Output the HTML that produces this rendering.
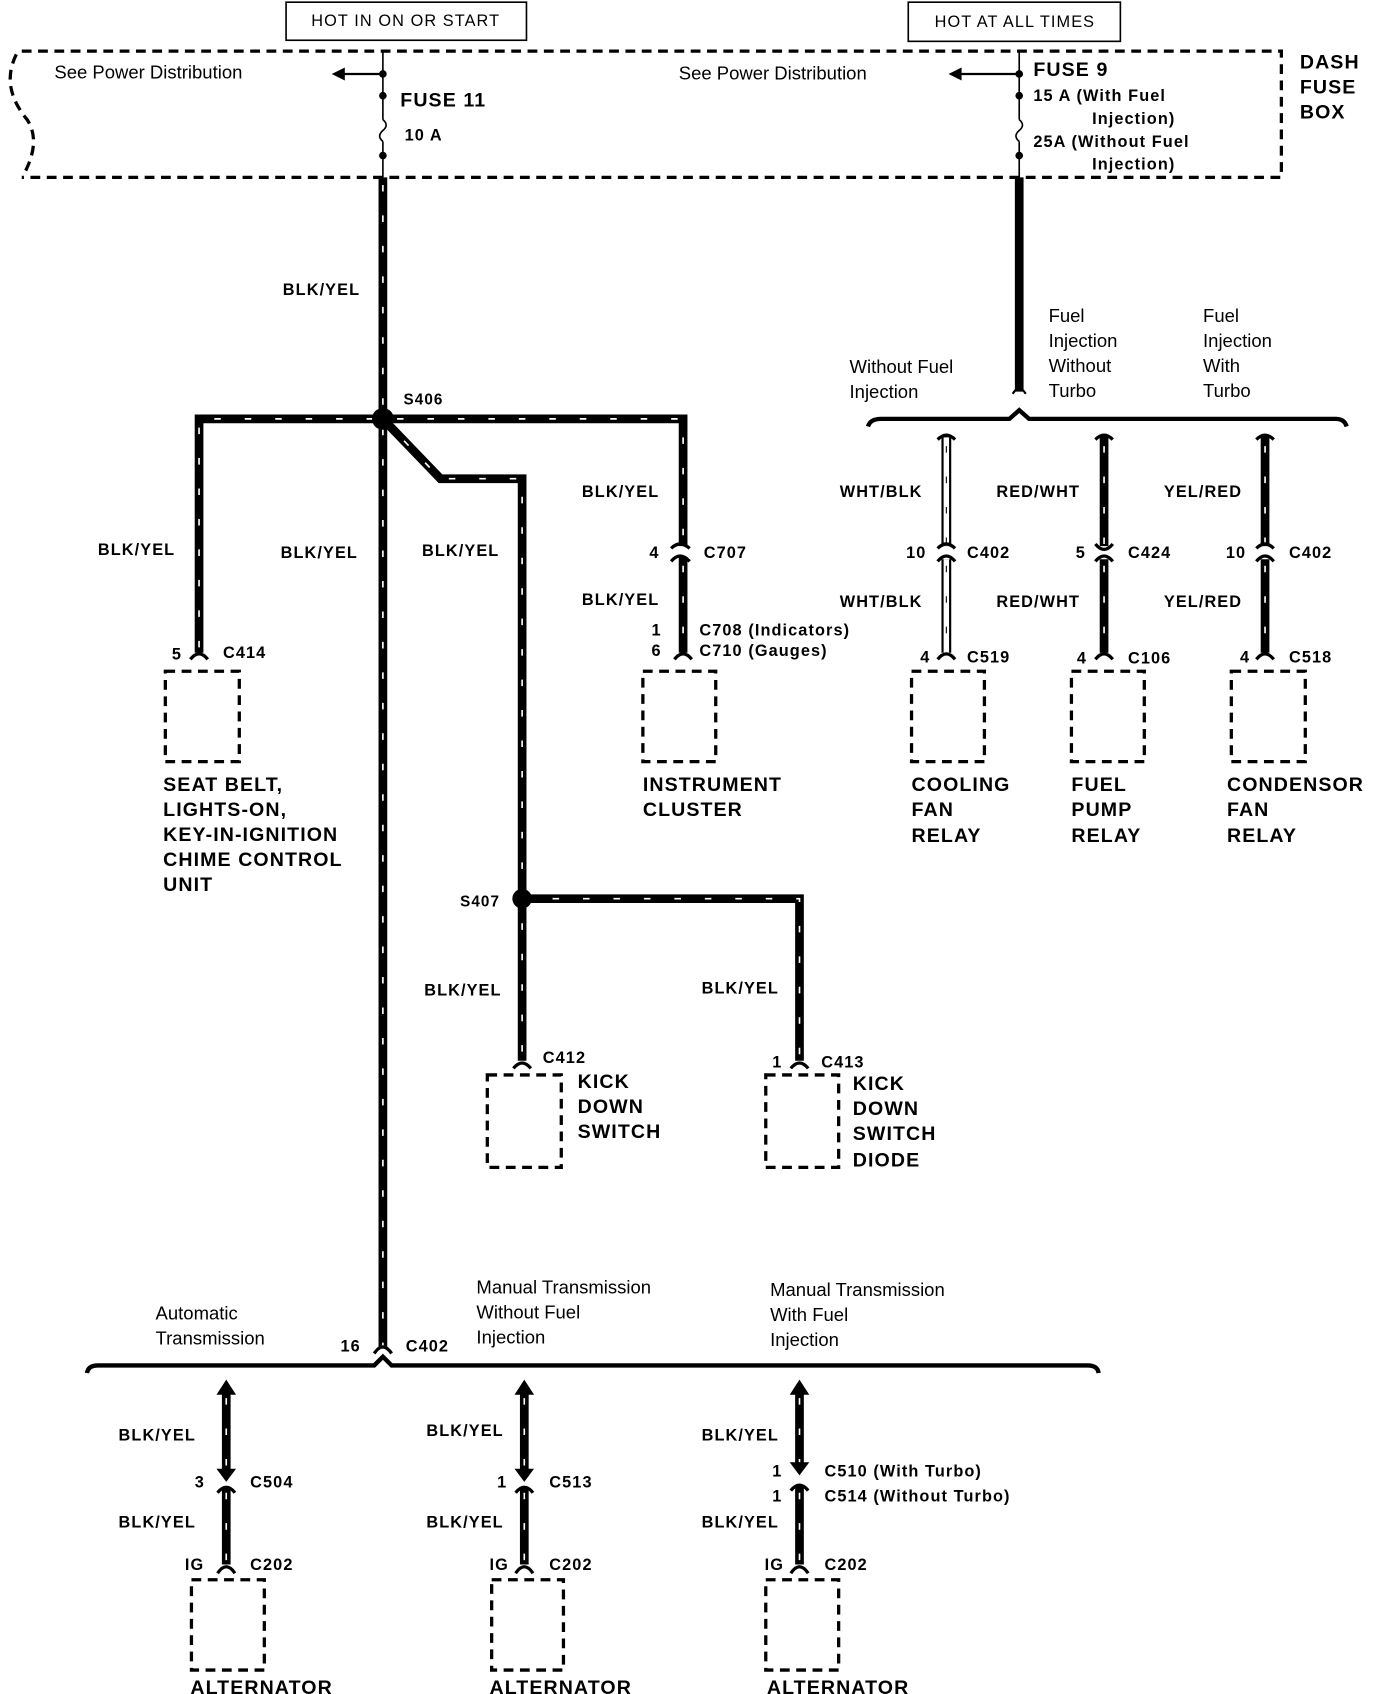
<!DOCTYPE html>
<html><head><meta charset="utf-8"><style>
html,body{margin:0;padding:0;background:#fff}
svg{display:block}
text{font-family:"Liberation Sans",Arial,sans-serif;fill:#000}
.b{font-weight:bold;font-size:15px;letter-spacing:1px}
.n{font-size:17px}
.L{font-weight:bold;font-size:18px;letter-spacing:1px}
.w{stroke:#000;stroke-width:8;fill:none}
.t{stroke:#fff;stroke-width:1.5;fill:none;stroke-dasharray:6 22}
.d{stroke:#000;stroke-width:3;fill:none;stroke-dasharray:9 6}
.th{stroke:#000;stroke-width:1.5;fill:none}
.c{stroke:#000;stroke-width:3;fill:none}
</style></head><body>
<svg width="1376" height="1694" viewBox="0 0 1265 1557" preserveAspectRatio="none" xmlns="http://www.w3.org/2000/svg">
<rect x="263" y="2" width="221" height="35" class="th"/>
<text x="373" y="24" text-anchor="middle" style="font-size:15px;letter-spacing:1px">HOT IN ON OR START</text>
<rect x="835" y="2" width="195" height="36" class="th"/>
<text x="933" y="25" text-anchor="middle" style="font-size:15px;letter-spacing:1px">HOT AT ALL TIMES</text>
<path d="M20 47 H1178 V163 H20" class="d"/>
<path d="M15 50 Q0 80 25 110 Q38 130 22 160" class="d"/>
<text x="1195" y="63" class="L">DASH</text>
<text x="1195" y="86" class="L">FUSE</text>
<text x="1195" y="109" class="L">BOX</text>
<line x1="352" y1="47" x2="352" y2="110" class="th"/>
<path d="M352 110 q6 5 0 10 q-6 5 0 10" class="th"/>
<line x1="352" y1="130" x2="352" y2="163" class="th"/>
<circle cx="352" cy="68" r="3.5"/><circle cx="352" cy="88" r="3.5"/><circle cx="352" cy="143" r="3.5"/>
<line x1="352" y1="68" x2="315" y2="68" stroke="#000" stroke-width="2"/>
<path d="M305 68 L317 62 L317 74 Z"/>
<text x="50" y="72" class="n">See Power Distribution</text>
<text x="368" y="98" class="L">FUSE 11</text>
<text x="372" y="129" class="b">10 A</text>
<line x1="937" y1="47" x2="937" y2="110" class="th"/>
<path d="M937 110 q6 5 0 10 q-6 5 0 10" class="th"/>
<line x1="937" y1="130" x2="937" y2="163" class="th"/>
<circle cx="937" cy="68" r="3.5"/><circle cx="937" cy="88" r="3.5"/><circle cx="937" cy="143" r="3.5"/>
<line x1="937" y1="68" x2="882" y2="68" stroke="#000" stroke-width="2"/>
<path d="M872 68 L884 62 L884 74 Z"/>
<text x="624" y="73" class="n">See Power Distribution</text>
<text x="950" y="70" class="L">FUSE 9</text>
<text x="950" y="93" class="b">15 A (With Fuel</text>
<text x="1004" y="114" class="b">Injection)</text>
<text x="950" y="135" class="b">25A (Without  Fuel</text>
<text x="1004" y="156" class="b">Injection)</text>

<path d="M352 163 V1238" class="w"/><path d="M352 170 V1238" class="t"/>
<text x="260" y="271" class="b">BLK/YEL</text>
<path d="M183 600 V385 H628 V502" class="w"/><path d="M183 595 V385 H628 V500" class="t"/>
<path d="M352 385 L405 440 H480 V975" class="w"/><path d="M352 385 L405 440 H480 V975" class="t"/>
<circle cx="352" cy="385" r="10"/>
<text x="371" y="372" class="b" style="font-size:14px">S406</text>
<text x="90" y="510" class="b">BLK/YEL</text>
<text x="258" y="513" class="b">BLK/YEL</text>
<text x="388" y="511" class="b">BLK/YEL</text>
<path d="M617 504 Q625 496 634 504" class="c"/>
<path d="M628 512 V600" class="w"/><path d="M628 520 V600" class="t"/>
<path d="M617 516 Q625 506 634 516" class="c"/>
<text x="535" y="457" class="b">BLK/YEL</text>
<text x="535" y="556" class="b">BLK/YEL</text>
<text x="597" y="513" class="b">4</text><text x="647" y="513" class="b">C707</text>
<text x="599" y="584" class="b">1</text><text x="643" y="584" class="b">C708 (Indicators)</text>
<text x="599" y="603" class="b">6</text><text x="643" y="603" class="b">C710  (Gauges)</text>
<path d="M620 606 Q628 596 636 606" class="c"/>
<path d="M175 606 Q183 596 191 606" class="c"/>
<text x="158" y="606" class="b">5</text><text x="205" y="605" class="b">C414</text>
<rect x="152" y="617" width="68" height="83" class="d"/>
<rect x="591" y="617" width="67" height="83" class="d"/>
<rect x="838" y="617" width="67" height="83" class="d"/>
<rect x="985" y="617" width="67" height="83" class="d"/>
<rect x="1132" y="617" width="68" height="83" class="d"/>
<text x="150" y="727" class="L">SEAT BELT,</text>
<text x="150" y="750" class="L">LIGHTS-ON,</text>
<text x="150" y="773" class="L">KEY-IN-IGNITION</text>
<text x="150" y="796" class="L">CHIME CONTROL</text>
<text x="150" y="819" class="L">UNIT</text>
<text x="591" y="727" class="L">INSTRUMENT</text>
<text x="591" y="750" class="L">CLUSTER</text>
<text x="838" y="727" class="L">COOLING</text><text x="838" y="750" class="L">FAN</text><text x="838" y="774" class="L">RELAY</text>
<text x="985" y="727" class="L">FUEL</text><text x="985" y="750" class="L">PUMP</text><text x="985" y="774" class="L">RELAY</text>
<text x="1128" y="727" class="L">CONDENSOR</text><text x="1128" y="750" class="L">FAN</text><text x="1128" y="774" class="L">RELAY</text>

<path d="M937 163 V360" class="w"/>
<path d="M931 362 Q937 352 943 362" class="c" style="stroke-width:2"/>
<path d="M798 392 Q800 385 810 385 H928 L937 377 L946 385 H1228 Q1236 385 1238 392" stroke="#000" stroke-width="4" fill="none"/>
<text x="781" y="343" class="n">Without Fuel</text><text x="781" y="366" class="n">Injection</text>
<text x="964" y="296" class="n">Fuel</text><text x="964" y="319" class="n">Injection</text><text x="964" y="342" class="n">Without</text><text x="964" y="365" class="n">Turbo</text>
<text x="1106" y="296" class="n">Fuel</text><text x="1106" y="319" class="n">Injection</text><text x="1106" y="342" class="n">With</text><text x="1106" y="365" class="n">Turbo</text>
<path d="M870 400 V502 M870 514 V600" stroke="#000" stroke-width="9" fill="none"/>
<path d="M870 402 V502 M870 514 V600" stroke="#fff" stroke-width="5" fill="none"/>
<path d="M870 410 V500 M870 520 V598" stroke="#000" stroke-width="1" stroke-dasharray="6 22" fill="none"/>
<path d="M1015 400 V502 M1015 514 V600" class="w"/><path d="M1015 410 V500 M1015 520 V600" class="t"/>
<path d="M1163 400 V502 M1163 514 V600" class="w"/><path d="M1163 410 V500 M1163 520 V600" class="t"/>
<path d="M862 404 Q870 396 878 404 M1007 404 Q1015 396 1023 404 M1155 404 Q1163 396 1171 404" class="c"/>
<path d="M862 504 Q870 496 878 504 M862 516 Q870 506 878 516" class="c"/>
<path d="M1007 500 Q1015 510 1023 500 M1007 516 Q1015 506 1023 516" class="c"/>
<path d="M1155 504 Q1163 496 1171 504 M1155 516 Q1163 506 1171 516" class="c"/>
<path d="M862 606 Q870 596 878 606 M1007 606 Q1015 596 1023 606 M1155 606 Q1163 596 1171 606" class="c"/>
<text x="772" y="457" class="b">WHT/BLK</text><text x="772" y="558" class="b">WHT/BLK</text>
<text x="916" y="457" class="b">RED/WHT</text><text x="916" y="558" class="b">RED/WHT</text>
<text x="1070" y="457" class="b">YEL/RED</text><text x="1070" y="558" class="b">YEL/RED</text>
<text x="833" y="513" class="b">10</text><text x="889" y="513" class="b">C402</text>
<text x="989" y="513" class="b">5</text><text x="1037" y="513" class="b">C424</text>
<text x="1127" y="513" class="b">10</text><text x="1185" y="513" class="b">C402</text>
<text x="846" y="609" class="b">4</text><text x="889" y="609" class="b">C519</text>
<text x="990" y="610" class="b">4</text><text x="1037" y="610" class="b">C106</text>
<text x="1140" y="609" class="b">4</text><text x="1185" y="609" class="b">C518</text>

<path d="M480 826 H735 V975" class="w"/><path d="M480 826 H735 V975" class="t"/>
<circle cx="480" cy="826" r="9"/>
<text x="423" y="833" class="b" style="font-size:14px">S407</text>
<text x="390" y="915" class="b">BLK/YEL</text>
<text x="645" y="913" class="b">BLK/YEL</text>
<path d="M472 982 Q480 972 488 982 M727 982 Q735 972 743 982" class="c"/>
<text x="499" y="977" class="b">C412</text>
<text x="710" y="981" class="b">1</text><text x="755" y="981" class="b">C413</text>
<rect x="448" y="988" width="68" height="85" class="d"/>
<rect x="704" y="988" width="67" height="85" class="d"/>
<text x="531" y="1000" class="L">KICK</text><text x="531" y="1023" class="L">DOWN</text><text x="531" y="1046" class="L">SWITCH</text>
<text x="784" y="1002" class="L">KICK</text><text x="784" y="1025" class="L">DOWN</text><text x="784" y="1048" class="L">SWITCH</text><text x="784" y="1072" class="L">DIODE</text>

<path d="M344 1244 Q352 1232 360 1244" class="c"/>
<text x="313" y="1242" class="b">16</text><text x="373" y="1242" class="b">C402</text>
<path d="M80 1262 Q81 1255 90 1255 H344 L352 1247 L360 1255 H1000 Q1009 1255 1010 1262" stroke="#000" stroke-width="4" fill="none"/>
<text x="143" y="1213" class="n">Automatic</text><text x="143" y="1236" class="n">Transmission</text>
<text x="438" y="1189" class="n">Manual Transmission</text><text x="438" y="1212" class="n">Without Fuel</text><text x="438" y="1235" class="n">Injection</text>
<text x="708" y="1191" class="n">Manual Transmission</text><text x="708" y="1214" class="n">With Fuel</text><text x="708" y="1237" class="n">Injection</text>

<g>
<path d="M208 1278 V1352 M208 1368 V1438" class="w"/><path d="M208 1285 V1350 M208 1372 V1438" class="t"/>
<path d="M199 1282 L208 1268 L217 1282 Z"/><path d="M199 1350 L208 1362 L217 1350 Z"/>
<path d="M200 1372 Q208 1362 216 1372 M200 1446 Q208 1434 216 1446" class="c"/>
<path d="M482 1278 V1352 M482 1368 V1438" class="w"/><path d="M482 1285 V1350 M482 1372 V1438" class="t"/>
<path d="M473 1282 L482 1268 L491 1282 Z"/><path d="M473 1350 L482 1362 L491 1350 Z"/>
<path d="M474 1372 Q482 1362 490 1372 M474 1446 Q482 1434 490 1446" class="c"/>
<path d="M735 1278 V1346 M735 1366 V1438" class="w"/><path d="M735 1285 V1344 M735 1372 V1438" class="t"/>
<path d="M726 1282 L735 1268 L744 1282 Z"/><path d="M726 1344 L735 1356 L744 1344 Z"/>
<path d="M727 1370 Q735 1360 743 1370 M727 1446 Q735 1434 743 1446" class="c"/>
</g>
<text x="109" y="1324" class="b">BLK/YEL</text><text x="109" y="1404" class="b">BLK/YEL</text>
<text x="392" y="1320" class="b">BLK/YEL</text><text x="392" y="1404" class="b">BLK/YEL</text>
<text x="645" y="1324" class="b">BLK/YEL</text><text x="645" y="1404" class="b">BLK/YEL</text>
<text x="179" y="1367" class="b">3</text><text x="230" y="1367" class="b">C504</text>
<text x="457" y="1367" class="b">1</text><text x="505" y="1367" class="b">C513</text>
<text x="710" y="1357" class="b">1</text><text x="758" y="1357" class="b">C510  (With Turbo)</text>
<text x="710" y="1380" class="b">1</text><text x="758" y="1380" class="b">C514  (Without Turbo)</text>
<text x="170" y="1443" class="b">IG</text><text x="230" y="1443" class="b">C202</text>
<text x="450" y="1443" class="b">IG</text><text x="505" y="1443" class="b">C202</text>
<text x="703" y="1443" class="b">IG</text><text x="758" y="1443" class="b">C202</text>
<rect x="176" y="1452" width="67" height="83" class="d"/>
<rect x="452" y="1452" width="66" height="83" class="d"/>
<rect x="704" y="1452" width="67" height="83" class="d"/>
<text x="175" y="1557" class="L">ALTERNATOR</text>
<text x="450" y="1557" class="L">ALTERNATOR</text>
<text x="705" y="1557" class="L">ALTERNATOR</text>
</svg>
</body></html>
